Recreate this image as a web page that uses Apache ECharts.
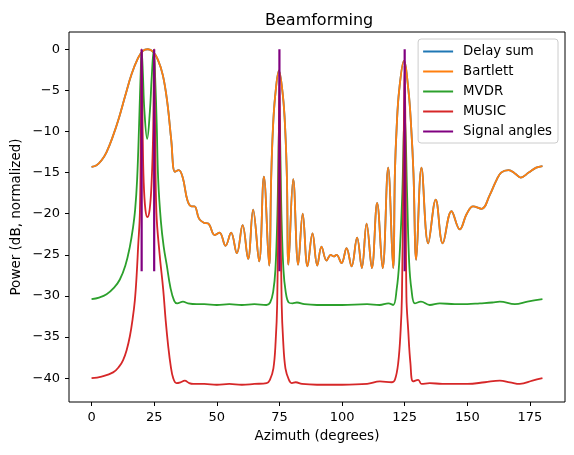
<!DOCTYPE html>
<html>
<head>
<meta charset="utf-8">
<script src="https://cdn.jsdelivr.net/npm/echarts@6/dist/echarts.min.js"></script>
<style>
html,body{margin:0;padding:0;background:#fff;}
#main{width:574px;height:455px;}
</style>
</head>
<body>
<div id="main"></div>
<script>
// tick labels
var xTicks = [0, 25, 50, 75, 100, 125, 150, 175];
var yTicks = [-40, -35, -30, -25, -20, -15, -10, -5, 0];

// Bartlett (delay sum lies right under it)
var bartlettAz = [0, 2, 4, 6, 8.5, 11, 13.5, 16, 18.5, 20.5, 22.5, 24.5, 26.5, 28.5, 30.3, 31.8, 33.3, 34.8, 36.4, 38.3,
  39.9, 41.1, 42.9, 44.8, 46.6, 49.2, 51.1, 53.5, 55.7, 58.0, 60.3, 62.5, 64.5, 66.9, 68.8, 70.9, 71.7, 72.4, 73.3, 74.8,
  76.4, 77.3, 78.0, 78.6, 80.5, 82.5, 84.3, 86.2, 88.2, 90.1, 91.8, 93.8, 95.5, 96.7, 97.8, 99.8, 101.8, 103.8, 106.0, 107.9,
  109.8, 111.9, 114.0, 116.2, 118.4, 120.4, 121.1, 121.8, 122.8, 124.7, 126.5, 127.6, 128.5, 129.6, 131.7, 134.4, 137.4, 140.2, 143.7, 147.0,
  149.8, 152.3, 155.7, 159.0, 161.5, 163.5, 166.5, 169.0, 171.3, 174.5, 177.5, 180];
var bartlettDb = [-14.3, -14.1, -13.5, -12.5, -10.6, -8.3, -5.6, -3.0, -1.1, -0.2, 0, -0.3, -1.3, -3.2, -6.6, -11.0, -14.9, -14.7, -15.6, -18.4,
  -19.1, -19.1, -20.6, -21.1, -21.2, -22.6, -22.3, -23.9, -22.3, -24.8, -21.4, -25.5, -19.5, -25.8, -15.5, -26.3, -15.8, -9.7, -5.7, -2.6,
  -5.7, -9.7, -15.8, -26.2, -15.8, -26.2, -20.0, -26.4, -22.4, -26.3, -24.0, -25.7, -25.0, -25.2, -25.0, -26.0, -24.2, -26.4, -22.9, -26.6,
  -21.2, -26.6, -18.7, -26.6, -14.4, -26.6, -15.0, -9.5, -5.0, -1.4, -5.0, -9.5, -15.0, -25.6, -14.4, -23.6, -18.3, -23.6, -19.7, -21.9,
  -20.0, -19.1, -19.4, -17.7, -16.0, -15.0, -14.7, -15.1, -15.6, -15.0, -14.4, -14.2];

var mvdrAz = [0, 3, 6, 9, 11.3, 13.5, 15.3, 16.5, 17.4, 18.2, 19.0, 19.6, 20.0, 20.5, 21.1, 22.2, 23.3, 24.0, 24.8, 25.4,
  26.0, 26.6, 27.7, 28.8, 30.0, 31.5, 33.0, 34.2, 36.5, 38.5, 42, 45, 50, 55, 60, 65, 69.8, 71.3, 72.5, 73.4,
  74.2, 75.0, 75.8, 76.6, 77.5, 78.7, 80.2, 82, 85, 90, 100, 110, 115, 118.5, 120.4, 121.8, 122.8, 124.0, 125.0, 126.0,
  126.8, 127.7, 129.1, 131.5, 135, 139, 145, 150, 155, 160, 163, 169, 174, 180];
var mvdrDb = [-30.4, -30.2, -29.8, -29.0, -28.0, -26.3, -24.0, -21.8, -19.5, -15.8, -9.0, -3.0, -0.2, -3.0, -7.5, -10.9, -7.5, -3.5, -0.1, -3.5,
  -9.0, -15.8, -21.0, -24.0, -26.2, -29.0, -30.6, -30.9, -30.7, -30.9, -31.0, -31.0, -31.1, -31.0, -31.1, -31.0, -31.1, -30.8, -29.5, -26.8,
  -20.0, -8.0, -20.0, -26.8, -29.5, -30.8, -30.9, -30.8, -31.0, -31.1, -31.1, -31.0, -31.1, -30.9, -31.1, -29.2, -26.0, -18.0, -7.7, -18.0,
  -26.0, -29.2, -30.9, -30.7, -31.1, -30.9, -31.0, -31.0, -30.9, -30.8, -30.7, -31.0, -30.7, -30.4];

var musicAz = [0, 4, 8.6, 11, 12.6, 14, 15.3, 16.4, 17.3, 18.0, 18.6, 19.3, 19.7, 20.0, 20.4, 20.8, 21.5, 22.3, 23.2, 24.0,
  24.6, 25.0, 25.4, 25.9, 27.2, 28.6, 29.6, 30.6, 31.6, 32.6, 33.9, 35.5, 37.2, 39, 40.6, 45, 50, 55, 60, 65,
  69.9, 71.2, 72.6, 73.5, 74.1, 74.6, 75.0, 75.4, 75.9, 76.5, 77.4, 78.8, 80, 81.5, 84, 90, 100, 110, 115.1, 119.8,
  121.1, 122.4, 123.4, 123.9, 124.5, 125.0, 125.4, 125.7, 126.4, 127.3, 128.4, 130.4, 131.7, 135, 140, 150, 157, 163, 167, 171,
  176, 180];
var musicDb = [-40.0, -39.8, -39.3, -38.6, -37.8, -36.6, -34.9, -32.8, -30.5, -27.5, -24.0, -19.9, -10.0, 0, -10.0, -16.0, -19.5, -20.4, -19.5, -16.0,
  -10.0, 0, -10.0, -19.9, -25.0, -29.2, -33.0, -36.1, -38.5, -40.0, -40.6, -40.5, -40.3, -40.6, -40.7, -40.7, -40.8, -40.7, -40.8, -40.7,
  -40.6, -40.2, -38.8, -35.5, -31.0, -18.0, -3.0, -18.0, -31.0, -35.5, -38.8, -40.2, -40.6, -40.5, -40.7, -40.8, -40.8, -40.7, -40.4, -40.5,
  -40.2, -38.2, -34.1, -30.1, -15.0, -2.0, -15.0, -30.1, -34.1, -38.2, -40.4, -40.2, -40.7, -40.6, -40.7, -40.7, -40.5, -40.3, -40.5, -40.7,
  -40.3, -40.0];

var signalAngles = [20, 25, 75, 125];
var signalTop = 0;
var signalBottom = -27;

function pairs(xs, ys){
	var out = [];
	for(var i=0;i<xs.length;i++){
		out.push([xs[i], ys[i]]);
	}
	return out;
}

var font = 'DejaVu Sans';
var chart = echarts.init(document.getElementById('main'));

function curve(name, color, xs, ys){
	return {
		name: name,
		type: 'line',
		data: pairs(xs, ys),
		showSymbol: false,
		symbol: 'none',
		smooth: 0.4,
		lineStyle: {color: color, width: 1.8},
		itemStyle: {color: color},
		z: 2
	};
}

var series = [
	curve('Delay sum', '#1f77b4', bartlettAz, bartlettDb),
	curve('Bartlett', '#ff7f0e', bartlettAz, bartlettDb),
	curve('MVDR', '#2ca02c', mvdrAz, mvdrDb),
	curve('MUSIC', '#d62728', musicAz, musicDb)
];
for(var k=0;k<signalAngles.length;k++){
	series.push({
		name: 'Signal angles',
		type: 'line',
		data: [[signalAngles[k], signalTop], [signalAngles[k], signalBottom]],
		showSymbol: false,
		symbol: 'none',
		lineStyle: {color: '#800080', width: 2.2},
		itemStyle: {color: '#800080'},
		z: 3
	});
}

function minus(v){
	return String(v).replace('-', '\u2212');
}

var option = {
	animation: false,
	backgroundColor: '#fff',
	title: {
		text: 'Beamforming',
		left: 260,
		top: 8,
		textStyle: {fontFamily: font, fontSize: 16, fontWeight: 'normal', color: '#000'}
	},
	legend: {
		data: ['Delay sum', 'Bartlett', 'MVDR', 'MUSIC', 'Signal angles'],
		orient: 'vertical',
		right: 16,
		top: 39,
		padding: [6, 6, 5, 4],
		itemWidth: 30,
		itemHeight: 14.3,
		itemGap: 7,
		itemStyle: {opacity: 0},
		backgroundColor: 'rgba(255,255,255,0.8)',
		borderColor: '#cccccc',
		borderWidth: 1,
		borderRadius: 3,
		textStyle: {fontFamily: font, fontSize: 13.3, color: '#000', padding: [0, 0, 0, 5]}
	},
	grid: {
		left: 69, right: 9, top: 32, bottom: 53,
		outerBoundsMode: 'none',
		containLabel: false,
		show: true, borderColor: '#000', borderWidth: 1, backgroundColor: 'transparent'
	},
	xAxis: {
		type: 'value',
		min: -9,
		max: 189,
		name: 'Azimuth (degrees)',
		nameLocation: 'middle',
		nameGap: 27,
		nameMoveOverlap: false,
		nameTextStyle: {fontFamily: font, fontSize: 13.5, color: '#000'},
		axisLine: {show: false, onZero: false},
		axisTick: {show: true, customValues: xTicks, length: 4, lineStyle: {color: '#000'}},
		axisLabel: {customValues: xTicks, margin: 9, fontFamily: font, fontSize: 13, color: '#000'},
		splitLine: {show: false}
	},
	yAxis: {
		type: 'value',
		min: -42.9,
		max: 2.1,
		name: 'Power (dB, normalized)',
		nameLocation: 'middle',
		nameGap: 46,
		nameMoveOverlap: false,
		nameTextStyle: {fontFamily: font, fontSize: 13.5, color: '#000'},
		axisLine: {show: false, onZero: false},
		axisTick: {show: true, customValues: yTicks, length: 4, lineStyle: {color: '#000'}},
		axisLabel: {customValues: yTicks, margin: 9, fontFamily: font, fontSize: 13, color: '#000', formatter: minus},
		splitLine: {show: false}
	},
	series: series
};
chart.setOption(option);
</script>
</body>
</html>
